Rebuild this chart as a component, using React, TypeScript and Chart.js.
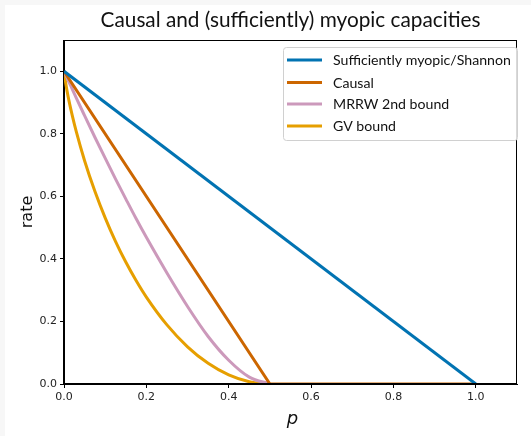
import React, { useEffect, useRef } from "react";
import { Chart, registerables } from "chart.js";
Chart.register(...registerables);

const chartTitle = "Causal and (sufficiently) myopic capacities";
const xLabel = "p";
const yLabel = "rate";
const seriesLabels = ["Sufficiently myopic/Shannon", "Causal", "MRRW 2nd bound", "GV bound"];
const seriesColors = ["#0173B2", "#CC6600", "#CC99BB", "#E69F00"];
const seriesSmooth = [false, false, true, true];

const pShannon = [0, 1];
const rateShannon = [1, 0];

const pCausal = [0, 0.5, 1.0];
const rateCausal = [1, 0, 0];

const pMrrw = [0, 0.005, 0.01, 0.02, 0.03, 0.05, 0.075, 0.1, 0.125, 0.15, 0.175, 0.2, 0.25, 0.3, 0.35, 0.4, 0.45, 0.5];
const rateMrrw = [1, 0.986, 0.971, 0.943, 0.914, 0.858, 0.789, 0.722, 0.656, 0.592, 0.529, 0.469, 0.355, 0.248, 0.152, 0.076, 0.022, 0];

const pGv = [0, 0.005, 0.01, 0.02, 0.03, 0.05, 0.075, 0.1, 0.125, 0.15, 0.175, 0.2, 0.25, 0.3, 0.35, 0.4, 0.45, 0.5];
const rateGv = [1, 0.955, 0.919, 0.859, 0.806, 0.714, 0.616, 0.531, 0.456, 0.39, 0.331, 0.278, 0.189, 0.119, 0.066, 0.029, 0.007, 0];

const xMin = 0, xMax = 1.1, xStep = 0.2;
const yMin = 0, yMax = 1.1, yStep = 0.2;

const pts = (xs: number[], ys: number[]) => xs.map((x, i) => ({ x, y: ys[i] }));

function fitFont(ctx: CanvasRenderingContext2D, text: string, family: string, target: number, style = "") {
  ctx.font = `${style}20px ${family}`;
  const w = ctx.measureText(text).width;
  return (20 * target) / w;
}

const decor = {
  id: "decor",
  beforeDraw(chart: any) {
    const ctx = chart.ctx as CanvasRenderingContext2D;
    ctx.save();
    ctx.fillStyle = "#ffffff";
    ctx.fillRect(0, 0, chart.width, chart.height);
    ctx.fillStyle = "#f7f7f7";
    ctx.fillRect(0, 0, 5, chart.height);
    ctx.fillRect(0, 0, chart.width, 5);
    ctx.restore();
  },
  afterDraw(chart: any) {
    const ctx = chart.ctx as CanvasRenderingContext2D;
    const a = chart.chartArea;
    ctx.save();
    ctx.strokeStyle = "#000";
    ctx.lineWidth = 1;
    ctx.strokeRect(Math.round(a.left) - 0.5, Math.round(a.top) + 0.5, Math.round(a.right - a.left), Math.round(a.bottom - a.top) - 1);

    const cx = (a.left + a.right) / 2;
    const tSize = fitFont(ctx, chartTitle, "Lato", 380);
    ctx.font = `${tSize}px Lato`;
    ctx.fillStyle = "#111";
    ctx.textAlign = "center";
    ctx.textBaseline = "middle";
    ctx.fillText(chartTitle, cx, 20);

    ctx.font = "italic 18px 'DejaVu Sans'";
    ctx.textBaseline = "alphabetic";
    ctx.fillText(xLabel, cx + 2, 424);

    ctx.save();
    ctx.translate(32, 212);
    ctx.rotate(-Math.PI / 2);
    ctx.font = "16px 'DejaVu Sans'";
    ctx.textAlign = "center";
    ctx.textBaseline = "alphabetic";
    ctx.fillText(yLabel, 0, 0);
    ctx.restore();

    const bx = 283.5, by = 47.5, bw = 234, bh = 93;
    ctx.beginPath();
    (ctx as any).roundRect(bx, by, bw, bh, 3);
    ctx.fillStyle = "rgba(255,255,255,0.85)";
    ctx.fill();
    ctx.strokeStyle = "#d0d0d0";
    ctx.lineWidth = 1;
    ctx.stroke();
    const lSize = fitFont(ctx, seriesLabels[0], "Lato", 178);
    ctx.font = `${lSize}px Lato`;
    ctx.textAlign = "left";
    ctx.textBaseline = "middle";
    const rows = [60, 82.5, 104, 126];
    chart.data.datasets.forEach((ds: any, i: number) => {
      const y = rows[i];
      ctx.strokeStyle = ds.borderColor;
      ctx.lineWidth = 3;
      ctx.beginPath();
      ctx.moveTo(287, y);
      ctx.lineTo(322, y);
      ctx.stroke();
      ctx.fillStyle = "#111";
      ctx.fillText(ds.label, 333, y + 0.5);
    });
    ctx.restore();
  },
};

export default function App() {
  const ref = useRef<HTMLCanvasElement>(null);
  useEffect(() => {
    document.body.style.margin = "0";
    const tickFont = { family: "'DejaVu Sans'", size: 11 };
    const data = [pts(pShannon, rateShannon), pts(pCausal, rateCausal), pts(pMrrw, rateMrrw), pts(pGv, rateGv)];
    const chart = new Chart(ref.current!, {
      type: "line",
      data: {
        datasets: data.map((d, i) => ({
          label: seriesLabels[i],
          data: d,
          borderColor: seriesColors[i],
          backgroundColor: seriesColors[i],
          borderWidth: 3,
          pointRadius: 0,
          fill: false,
          tension: 0,
          cubicInterpolationMode: seriesSmooth[i] ? "monotone" : "default",
        })),
      },
      options: {
        responsive: false,
        animation: false,
        devicePixelRatio: 1,
        layout: { padding: { left: 0, right: 14, top: 40, bottom: 0 } },
        scales: {
          x: {
            type: "linear",
            min: xMin,
            max: xMax,
            afterFit: (s: any) => { s.height = 52; },
            ticks: {
              stepSize: xStep,
              includeBounds: false,
              autoSkip: false,
              maxRotation: 0,
              padding: 3,
              color: "#222",
              font: tickFont,
              callback: (v: any) => Number(v).toFixed(1),
            },
            grid: { display: true, drawOnChartArea: false, drawTicks: true, tickLength: 4, color: "#000" },
            border: { display: true, color: "#000", width: 1 },
          },
          y: {
            type: "linear",
            min: yMin,
            max: yMax,
            afterFit: (s: any) => { s.width = 64; },
            ticks: {
              stepSize: yStep,
              includeBounds: false,
              autoSkip: false,
              padding: 3,
              color: "#222",
              font: tickFont,
              callback: (v: any) => Number(v).toFixed(1),
            },
            grid: { display: true, drawOnChartArea: false, drawTicks: true, tickLength: 4, color: "#000" },
            border: { display: true, color: "#000", width: 1 },
          },
        },
        plugins: { legend: { display: false }, title: { display: false }, tooltip: { enabled: false } },
      },
      plugins: [decor],
    } as any);
    return () => chart.destroy();
  }, []);
  return (
    <div style={{ position: "fixed", left: 0, top: 0, width: 531, height: 436, background: "#fff" }}>
      <canvas ref={ref} width={531} height={436} style={{ display: "block", width: 531, height: 436 }} />
    </div>
  );
}
